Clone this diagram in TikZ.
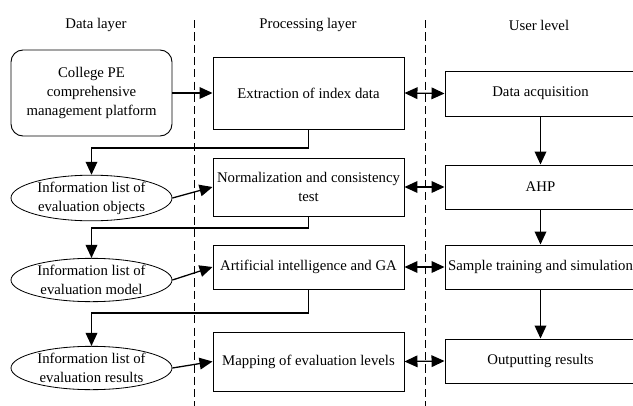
\documentclass[tikz,border=0pt]{standalone}
\usepackage{fontspec}
\setmainfont{Liberation Serif}
\usetikzlibrary{arrows.meta,positioning,shapes.geometric}
\tikzset{
  every node/.style={font=\fontsize{12.6}{16}\selectfont},
  tip/.tip={Triangle[length=3.9mm,width=3.5mm]},
  procbox/.style={draw,line width=0.8pt,minimum width=5.73cm,inner sep=1pt,align=center},
  listell/.style={ellipse,draw,line width=0.7pt,minimum width=4.83cm,minimum height=1.3cm,
                  inner sep=0pt,align=center},
  flow/.style={line width=1.1pt,-tip},
  twoway/.style={line width=1.1pt,tip-tip},
  divider/.style={line width=0.8pt,dash pattern=on 7pt off 3.5pt},
}

\begin{document}
\begin{tikzpicture}
    \useasboundingbox (0,0) rectangle (18.99,-12.18);
    % column headings and the two dashed dividers
    \node (hdata) at (2.88,-0.75) {Data layer};
    \node (hproc) at (9.24,-0.75) {Processing layer};
    \node (huser) at (16.17,-0.75) {User level};
    \draw[divider] (5.835,-0.6) -- (5.835,-12.18);
    \draw[divider] (12.77,-0.6) -- (12.77,-12.18);

    % data layer
    \node[draw,rounded corners=0.36cm,line width=0.8pt,minimum width=4.83cm,minimum height=2.58cm,align=center]
      (plat) at (2.745,-2.79) {College PE\\comprehensive\\management platform};
    \node[listell] (e1) at (2.745,-5.94) {Information list of\\evaluation objects};
    \node[listell] (e2) at (2.745,-8.4) {Information list of\\evaluation model};
    \node[listell] (e3) at (2.745,-11.04) {Information list of\\evaluation results};

    % processing layer
    \node[procbox,minimum height=2.16cm] (p1) at (9.255,-2.79) {Extraction of index data};
    \node[procbox,minimum height=1.74cm] (p2) at (9.255,-5.61) {Normalization and consistency\\test};
    \node[procbox,minimum height=1.32cm] (p3) at (9.255,-8.01) {Artificial intelligence and GA};
    \node[procbox,minimum height=1.77cm] (p4) at (9.255,-10.845) {Mapping of evaluation levels};

    % user level
    \node[procbox,minimum height=1.35cm] (u1) at (16.215,-2.805) {Data acquisition};
    \node[procbox,minimum height=1.32cm] (u2) at (16.215,-5.61) {AHP};
    \node[procbox,minimum height=1.32cm] (u3) at (16.215,-8.01) {Sample training and simulation};
    \node[procbox,minimum height=1.32cm] (u4) at (16.215,-10.83) {Outputting results};

    % heights of the return paths
    \coordinate (b1) at (0,-4.44);
    \coordinate (b2) at (0,-6.84);
    \coordinate (b3) at (0,-9.39);

    \draw[flow] (plat.east) -- (p1.west);
    \draw[flow] (p1.south) -- (p1.south |- b1) -| (e1.north);
    \draw[flow] (p2.south) -- (p2.south |- b2) -| (e2.north);
    \draw[flow] (p3.south) -- (p3.south |- b3) -| (e3.north);
    \draw[flow] (e1.east) -- (p2.west);
    \draw[flow] (e2.east) -- (p3.west);
    \draw[flow] (e3.east) -- (p4.west);

    \foreach \i in {1,...,4}
      \draw[twoway] (p\i.east) -- (u\i.west);
    \draw[flow] (u1.south) -- (u2.north);
    \draw[flow] (u2.south) -- (u3.north);
    \draw[flow] (u3.south) -- (u4.north);
  \end{tikzpicture}
\end{document}
